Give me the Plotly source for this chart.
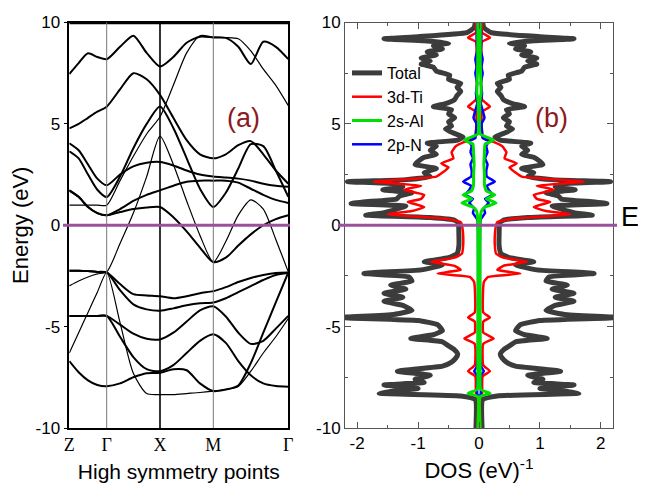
import numpy as np
import plotly.graph_objects as go

# ---------------- data: band structure (panel a) ----------------
k_labels = ["Z", "Γ", "X", "M", "Γ"]
k_sym = [0.0, 0.374, 0.907, 1.440, 2.190]
seg_div = [4, 4, 4, 6]

energy_ticks = [-10, -5, 0, 5, 10]
energy_ticktext = ["-10", "-5", "0", "5", "10"]
dos_ticks = [-2, -1, 0, 1, 2]
dos_ticktext = ["-2", "-1", "0", "1", "2"]

band_01 = [7.46, 8.0, 8.48, 8.3, 8.19, 8.8, 9.35, 8.5, 7.83, 8.3, 9.0, 9.3, 9.26, 9.24, 8.8, 7.95, 9.05, 8.8, 8.19]
band_02 = [0.99, 0.99, 0.99, 0.99, 0.99, 2.2, 3.4, 4.5, 5.35, 6.9, 8.5, 9.35, 9.28, 9.26, 9.2, 8.6, 7.7, 6.9, 5.9]
band_03 = [4.78, 5.0, 5.3, 5.6, 5.85, 6.7, 7.5, 7.2, 6.43, 5.3, 4.2, 3.5, 3.3, 3.5, 3.95, 4.15, 3.5, 2.7, 2.05]
band_04 = [3.65, 3.3, 2.5, 1.75, 1.39, 2.4, 3.8, 5.0, 5.86, 4.8, 3.3, 1.8, 0.9, 1.6, 2.8, 4.0, 3.9, 2.7, 1.4]
band_05 = [4.04, 3.7, 3.0, 2.3, 1.97, 2.5, 2.9, 3.08, 3.12, 2.95, 2.7, 2.5, 2.4, 2.35, 2.3, 2.2, 2.05, 1.95, 1.9]
band_06 = [1.72, 1.4, 0.9, 0.6, 0.49, 0.8, 1.2, 1.5, 1.72, 1.95, 2.15, 2.2, 2.2, 2.2, 2.1, 1.8, 1.5, 1.25, 1.1]
band_07 = [1.72, 1.4, 0.9, 0.6, 0.49, 0.65, 0.8, 0.88, 0.9, 0.4, -0.3, -1.1, -1.82, -1.6, -1.0, -0.45, 0.0, 0.3, 0.49]
band_08 = [-2.99, -2.75, -2.55, -2.4, -2.3, -0.9, 0.6, 2.4, 4.4, 3.0, 1.2, -0.5, -1.82, -0.8, 0.5, 1.25, 0.8, -0.7, -2.3]
band_09 = [-2.24, -2.24, -2.26, -2.3, -2.33, -2.9, -3.4, -3.46, -3.5, -3.6, -3.5, -3.35, -3.25, -3.05, -2.8, -2.6, -2.45, -2.35, -2.33]
band_10 = [-2.24, -2.24, -2.26, -2.3, -2.33, -3.2, -3.9, -4.15, -4.22, -4.1, -3.95, -3.85, -3.81, -3.6, -3.3, -3.0, -2.7, -2.45, -2.36]
band_11 = [-4.47, -4.47, -4.47, -4.47, -4.47, -4.9, -5.35, -5.6, -5.63, -5.3, -4.75, -4.2, -4.0, -4.5, -5.3, -5.85, -5.7, -5.1, -4.47]
band_12 = [-6.3, -5.3, -4.3, -3.3, -2.33, -4.8, -7.3, -8.3, -8.35, -8.35, -8.3, -8.25, -8.18, -8.1, -7.95, -7.2, -6.3, -5.5, -4.6]
band_13 = [-6.7, -7.25, -7.65, -7.88, -7.94, -7.8, -7.5, -7.3, -7.28, -7.1, -7.15, -7.8, -8.18, -8.1, -7.9, -6.8, -5.3, -3.8, -2.33]
band_14 = [-4.47, -4.47, -4.47, -4.47, -4.47, -5.5, -6.5, -7.1, -7.2, -6.9, -6.3, -5.7, -5.38, -5.8, -6.7, -7.4, -7.8, -7.93, -7.96]

bands = [band_01, band_02, band_03, band_04, band_05, band_06, band_07,
         band_08, band_09, band_10, band_11, band_12, band_13, band_14]
thin_bands = [1, 7, 11]  # indices of the thinner lines

# ---------------- data: DOS (panel b) ----------------
total_E = [10, 9.75, 9.5, 9.3, 9.2, 9.1, 8.98, 8.85, 8.7, 8.55, 8.4, 8.25, 8.1, 7.95, 7.8, 7.6, 7.4, 7.2,
           7.0, 6.8, 6.6, 6.4, 6.2, 6.0, 5.85, 5.7, 5.5, 5.3, 5.1, 4.9, 4.75, 4.55, 4.35, 4.2, 4.05, 3.9,
           3.7, 3.5, 3.35, 3.15, 3.0, 2.8, 2.6, 2.4, 2.25, 2.15, 2.05, 1.9, 1.75, 1.6, 1.45, 1.3, 1.15,
           1.07, 0.95, 0.8, 0.6, 0.5, 0.38, 0.25, 0.1, -0.5, -1.0, -1.4, -1.6, -1.8, -1.95, -2.2, -2.38,
           -2.55, -2.75, -2.95, -3.15, -3.35, -3.55, -3.75, -3.95, -4.2, -4.4, -4.55, -4.7, -4.9, -5.2,
           -5.4, -5.58, -5.75, -5.95, -6.15, -6.35, -6.55, -6.75, -6.95, -7.2, -7.4, -7.6, -7.75, -7.88,
           -8.05, -8.2, -8.29, -8.42, -8.6, -10]
total_dos = [0.06, 0.08, 0.2, 1.0, 1.56, 0.9, 0.5, 0.75, 0.6, 0.85, 0.7, 0.95, 0.8, 0.95, 0.75, 0.7, 0.48,
             0.5, 0.3, 0.36, 0.3, 0.36, 0.4, 0.55, 0.75, 0.45, 0.5, 0.4, 0.5, 0.45, 0.55, 0.42, 0.26, 0.35,
             0.85, 0.7, 0.8, 0.7, 0.9, 1.0, 1.05, 0.7, 0.9, 0.8, 1.2, 2.16, 1.4, 1.25, 1.58, 1.1, 1.3,
             1.35, 1.9, 2.1, 1.2, 1.35, 1.6, 1.86, 0.8, 0.4, 0.34, 0.33, 0.33, 0.36, 0.5, 0.9, 0.6, 0.95,
             1.89, 1.15, 1.1, 1.45, 1.2, 1.56, 1.25, 1.56, 1.25, 1.1, 1.4, 2.3, 1.0, 0.68, 0.6, 0.75, 1.12,
             0.6, 0.5, 0.4, 0.35, 0.38, 0.45, 0.6, 1.34, 0.8, 1.05, 0.9, 1.56, 1.0, 1.45, 1.64, 0.3, 0.06,
             0.05]

ti_E = [10, 9.5, 9.25, 9.05, 8.0, 6.2, 5.85, 5.6, 4.6, 4.3, 4.1, 3.9, 3.6, 3.3, 3.05, 2.85, 2.6, 2.4, 2.15, 1.95,
        1.75, 1.5, 1.3, 1.15, 0.9, 0.7, 0.55, 0.3, 0.15, 0, -0.5, -1.0, -1.4, -1.6, -1.8, -2.0, -2.2, -2.38,
        -2.55, -2.8, -4.3, -4.55, -4.75, -5.3, -5.58, -5.85, -6.9, -7.2, -7.45, -8.3, -8.5, -10]
ti_dos = [0.05, 0.05, 0.18, 0.05, 0.04, 0.05, 0.18, 0.05, 0.05, 0.07, 0.25, 0.38, 0.45, 0.42, 0.62, 0.5, 0.6,
          0.7, 1.72, 0.95, 1.23, 0.9, 0.95, 1.17, 0.9, 1.1, 1.5, 0.5, 0.3, 0.28, 0.26, 0.26, 0.28, 0.4, 0.79,
          0.4, 0.3, 0.68, 0.15, 0.08, 0.07, 0.18, 0.07, 0.07, 0.24, 0.07, 0.07, 0.18, 0.06, 0.05, 0.02, 0.02]

al_E = [10, 8.0, 6.5, 6.3, 4.5, 4.2, 4.0, 3.6, 3.0, 2.5, 2.0, 1.7, 1.5, 1.3, 1.1, 0.9, 0.7, 0.3, -7.0, -8.1,
        -8.29, -8.45, -10]
al_dos = [0.02, 0.02, 0.035, 0.02, 0.02, 0.24, 0.1, 0.09, 0.08, 0.09, 0.09, 0.12, 0.26, 0.12, 0.28, 0.1, 0.04,
          0.02, 0.02, 0.03, 0.18, 0.02, 0.02]

n_E = [10, 9.3, 8.6, 8.2, 7.8, 7.5, 7.0, 6.5, 6.0, 5.3, 5.0, 4.6, 4.3, 4.15, 3.9, 3.6, 3.3, 3.0, 2.7, 2.4, 2.15,
       1.95, 1.75, 1.5, 1.3, 1.1, 0.85, 0.6, 0.3, 0, -6.5, -7.0, -7.2, -7.4, -8.3, -8.5, -10]
n_dos = [0.02, 0.04, 0.03, 0.06, 0.04, 0.06, 0.03, 0.05, 0.03, 0.09, 0.04, 0.05, 0.06, 0.16, 0.12, 0.14, 0.1,
         0.14, 0.12, 0.13, 0.26, 0.13, 0.16, 0.22, 0.1, 0.16, 0.08, 0.1, 0.03, 0.02, 0.02, 0.04, 0.08, 0.03,
         0.03, 0.01, 0.01]

dos_series = [
    ("Total", total_E, total_dos, "#3c3c3c", 5.0, 1),
    ("3d-Ti", ti_E, ti_dos, "#ff0000", 2.5, 2),
    ("2p-N", n_E, n_dos, "#0000ff", 2.5, 4),
    ("2s-Al", al_E, al_dos, "#00e000", 3.0, 3),
]

# ---------------- figure ----------------
# the page body has an 8 px margin, so the figure is 8 px smaller and positions are shifted
OFF = 8
W, H = 646 - OFF, 490 - OFF
fig = go.Figure()

k = []
for i, n in enumerate(seg_div):
    pts = list(np.linspace(k_sym[i], k_sym[i + 1], n + 1))
    if i > 0:
        pts = pts[1:]
    k.extend(pts)

for i, b in enumerate(bands):
    fig.add_trace(go.Scatter(
        x=k, y=b, mode="lines", xaxis="x", yaxis="y", showlegend=False,
        line=dict(color="black", width=1.2 if i in thin_bands else 2.0, shape="spline", smoothing=0.7),
        hoverinfo="skip"))

for name, E, d, col, w, rank in dos_series:
    xs = list(d) + [None] + [-v for v in d]
    ys = list(E) + [None] + list(E)
    fig.add_trace(go.Scatter(
        x=xs, y=ys, mode="lines", xaxis="x2", yaxis="y2", name=name, legendrank=rank,
        line=dict(color=col, width=w, shape="spline", smoothing=0.4), connectgaps=False))


def px(xp):
    return (xp - OFF) / W


def py(yp):
    return 1 - (yp - OFF) / H


ydom = [py(428), py(22.5)]
font_main = "Liberation Sans, Arial, sans-serif"

fig.update_layout(
    width=W, height=H, margin=dict(l=0, r=0, t=0, b=0),
    paper_bgcolor="white", plot_bgcolor="white",
    font=dict(family=font_main, color="black", size=17),
    xaxis=dict(domain=[px(69.3), px(288.3)], range=[k_sym[0], k_sym[-1]], tickmode="array",
               tickvals=k_sym, ticktext=k_labels, ticks="", showgrid=False, zeroline=False,
               showline=True, linecolor="black", linewidth=1.5, mirror=True,
               tickfont=dict(family="Liberation Serif, Times New Roman, serif", size=18),
               title=dict(text="High symmetry points", font=dict(size=21), standoff=10),
               anchor="y", automargin=False),
    yaxis=dict(domain=ydom, range=[-10, 10], tickmode="array", tickvals=energy_ticks,
               ticktext=energy_ticktext,
               ticks="outside", ticklen=4, tickcolor="black", showgrid=False, zeroline=False,
               showline=True, linecolor="black", linewidth=1.5, mirror=True,
               title=dict(text="Energy (eV)", font=dict(size=22), standoff=3),
               anchor="x", automargin=False),
    xaxis2=dict(domain=[px(345), px(613)], range=[-2.2, 2.2], tickmode="array",
                tickvals=dos_ticks, ticktext=dos_ticktext, ticks="inside", ticklen=6, tickcolor="#555",
                minor=dict(tickmode="array", tickvals=[-1.5, -0.5, 0.5, 1.5], ticks="inside",
                           ticklen=3, tickcolor="#555"),
                showgrid=False, zeroline=False, showline=True, linecolor="#555", linewidth=1,
                mirror="allticks",
                title=dict(text="DOS (eV)<sup>-1</sup>", font=dict(size=22), standoff=10),
                anchor="y2", automargin=False),
    yaxis2=dict(domain=ydom, range=[-10, 10], tickmode="array", tickvals=energy_ticks,
                ticktext=energy_ticktext,
                ticks="inside", ticklen=6, tickcolor="#555",
                minor=dict(tickmode="array", tickvals=[-7.5, -2.5, 2.5, 7.5], ticks="inside",
                           ticklen=3, tickcolor="#555"),
                showgrid=False, zeroline=False, showline=True, linecolor="#555", linewidth=1,
                mirror="allticks", anchor="x2", automargin=False),
    legend=dict(x=px(347), y=py(56), xanchor="left", yanchor="top", bgcolor="rgba(0,0,0,0)",
                font=dict(size=16), itemwidth=30, tracegroupgap=0),
    showlegend=True,
)

shapes = []
# thick top border of panel (a)
shapes.append(dict(type="line", xref="x", yref="y", x0=k_sym[0], x1=k_sym[-1], y0=10, y1=10,
                   line=dict(color="black", width=3.5)))
# high-symmetry vertical lines
for i, kv in enumerate(k_sym[1:-1]):
    is_x = (k_labels[i + 1] == "X")
    shapes.append(dict(type="line", xref="x", yref="y domain", x0=kv, x1=kv, y0=0, y1=1,
                       line=dict(color="black" if is_x else "#777", width=1.6 if is_x else 1)))
# Fermi level lines
shapes.append(dict(type="line", xref="paper", yref="y", x0=px(63), x1=px(290), y0=0, y1=0,
                   line=dict(color="#9c4f9c", width=3)))
shapes.append(dict(type="line", xref="paper", yref="y2", x0=px(338), x1=px(617), y0=0, y1=0,
                   line=dict(color="#9c4f9c", width=3)))
fig.update_layout(shapes=shapes)

label_col = "#8b1a22"
fig.add_annotation(text="(a)", xref="paper", yref="paper", x=px(243), y=py(101), showarrow=False,
                   font=dict(size=27, color=label_col))
fig.add_annotation(text="(b)", xref="paper", yref="paper", x=px(570), y=py(101), showarrow=False,
                   font=dict(size=27, color=label_col))
fig.add_annotation(text="E<sub>F</sub>", xref="paper", yref="y2", x=px(619), y=0.3, xanchor="left",
                   yanchor="middle", showarrow=False, font=dict(size=27, color="black"))

fig.write_html("out.html")
